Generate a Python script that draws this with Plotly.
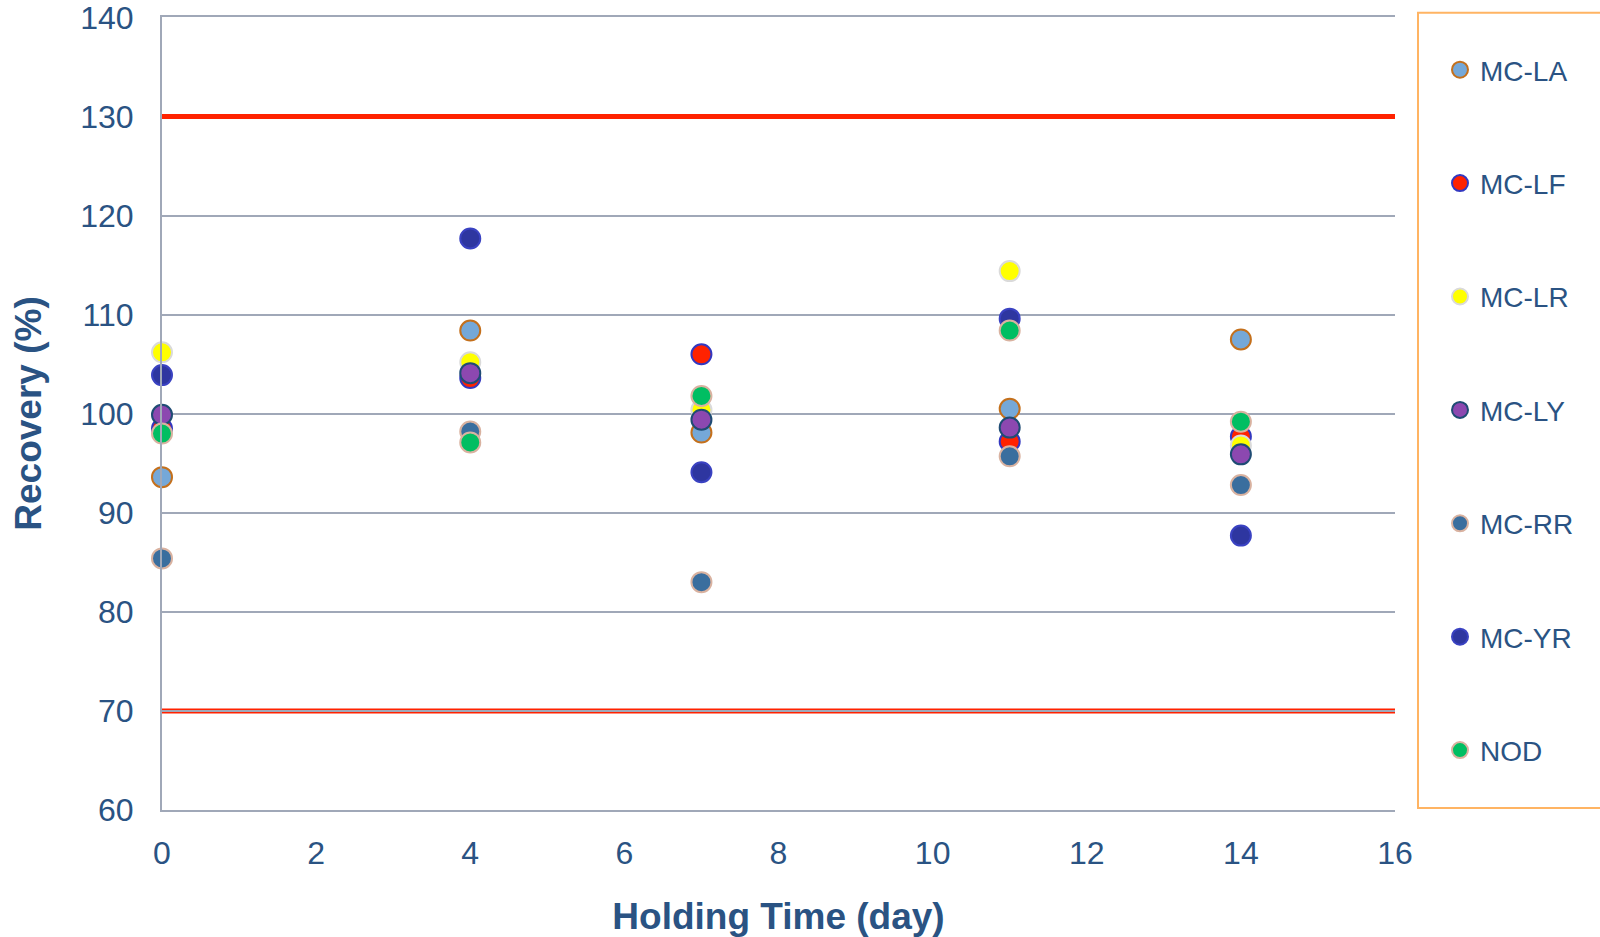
import plotly.graph_objects as go

days = [0, 4, 7, 11, 14]
series_names = ["MC-LA", "MC-LF", "MC-LR", "MC-LY", "MC-RR", "MC-YR", "NOD"]
mc_la = [93.6, 108.4, 98.1, 100.5, 107.5]
mc_lf = [98.5, 103.6, 106.0, 97.2, 97.7]
mc_lr = [106.2, 105.2, 100.4, 114.4, 96.8]
mc_ly = [99.9, 104.1, 99.4, 98.6, 95.9]
mc_rr = [85.4, 98.2, 83.0, 95.7, 92.8]
mc_yr = [103.9, 117.7, 94.1, 109.6, 87.7]
nod = [98.0, 97.1, 101.8, 108.4, 99.2]
upper_limit = 130
lower_limit = 70
x_ticks = [0, 2, 4, 6, 8, 10, 12, 14, 16]
y_ticks = [60, 70, 80, 90, 100, 110, 120, 130, 140]

values = [mc_la, mc_lf, mc_lr, mc_ly, mc_rr, mc_yr, nod]
fills = ["#75A8D8", "#FF2200", "#FFFF00", "#8C48B0", "#3A6E9E", "#2E36A0", "#00BE62"]
edges = ["#C4701C", "#3338C0", "#DADADA", "#1F4C74", "#D9B2A0", "#3A42C2", "#D9B2A0"]

TXT = "#2A5383"
FONT = "Liberation Sans, Arial, sans-serif"

fig = go.Figure()
for i, (name, vals) in enumerate(zip(series_names, values)):
    fig.add_trace(go.Scatter(
        x=days, y=vals, mode="markers", name=name, legendgroup=name, cliponaxis=False,
        marker=dict(size=20, color=fills[i], line=dict(color=edges[i], width=2)),
    ))

# limit lines
fig.add_shape(type="line", xref="paper", x0=0, x1=1, yref="y", y0=lower_limit, y1=lower_limit,
              line=dict(color="#FF2200", width=5), layer="below")
fig.add_shape(type="line", xref="paper", x0=0, x1=1, yref="y", y0=upper_limit, y1=upper_limit,
              line=dict(color="#FF2200", width=5), layer="above")

# legend box
fig.add_shape(type="rect", xref="paper", yref="paper",
              x0=(1418 - 162) / 1233, x1=(1610 - 162) / 1233,
              y0=(810 - 808) / 793, y1=(810 - 12.7) / 793,
              line=dict(color="#FFB463", width=2), fillcolor="rgba(0,0,0,0)")

fig.update_layout(
    width=1600, height=937,
    margin=dict(l=162, r=205, t=17, b=127, autoexpand=False),
    paper_bgcolor="white", plot_bgcolor="white",
    font=dict(family=FONT, color=TXT, size=32),
    showlegend=True,
    legend=dict(
        x=(1440 - 162) / 1233, xanchor="left",
        y=(810 - 45) / 793, yanchor="top",
        font=dict(family=FONT, size=28, color=TXT),
        tracegroupgap=74, bgcolor="rgba(0,0,0,0)", borderwidth=0,
        traceorder="grouped",
    ),
    xaxis=dict(
        range=[0, 16], tickvals=x_ticks, ticktext=[str(v) for v in x_ticks],
        showgrid=False, zeroline=False, showline=True, mirror=True,
        linecolor="#A0A8B8", linewidth=2,
        ticks="", ticklabelstandoff=14, automargin=False, ticklabeloverflow="allow",
        tickfont=dict(size=32, color=TXT, family=FONT),
        title=dict(text="<b>Holding Time (day)</b>", font=dict(size=37, color=TXT, family=FONT), standoff=50),
    ),
    yaxis=dict(
        range=[60, 140.05], tickvals=y_ticks, ticktext=[str(v) for v in y_ticks],
        showgrid=True, gridcolor="#A0A8B8", gridwidth=1.5, zeroline=False,
        showline=True, linecolor="#A0A8B8", linewidth=2,
        ticks="", ticklabelstandoff=20, automargin=False, ticklabeloverflow="allow",
        tickfont=dict(size=32, color=TXT, family=FONT),
        title=dict(text="<b>Recovery (%)</b>", font=dict(size=37, color=TXT, family=FONT), standoff=27),
    ),
)

fig.write_html("out.html")
